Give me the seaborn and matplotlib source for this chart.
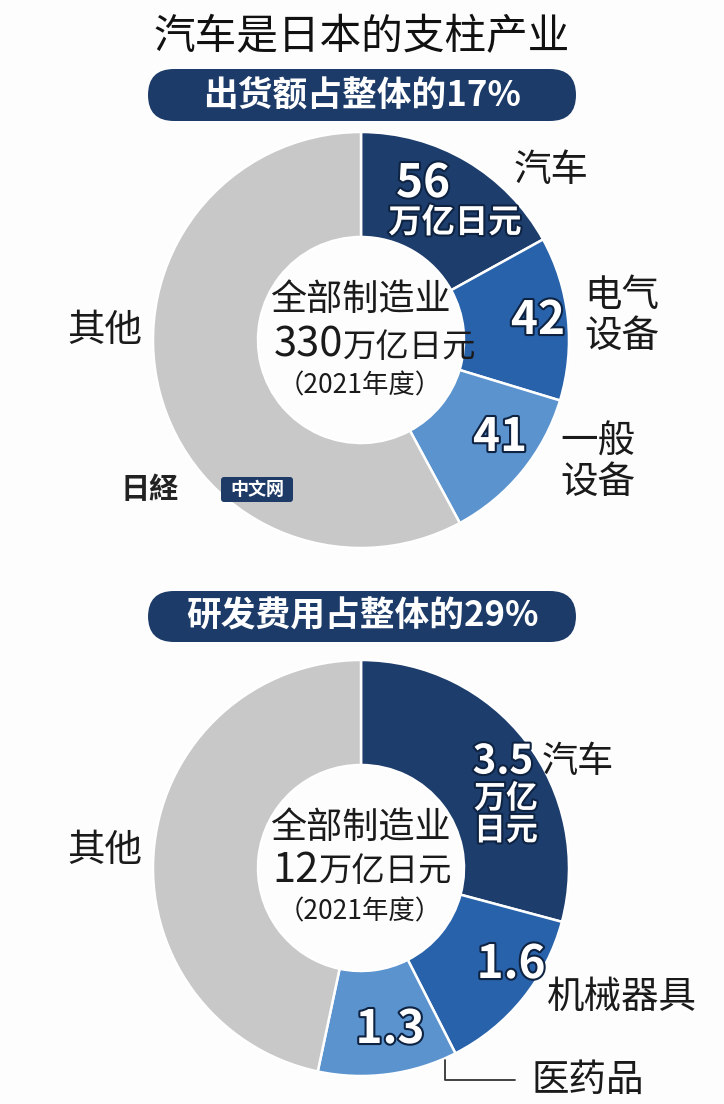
import seaborn as sns
import matplotlib.pyplot as plt
import matplotlib.patheffects as pe
from matplotlib.patches import FancyBboxPatch

# 数据
title = "汽车是日本的支柱产业"
ship_banner = "出货额占整体的17%"
ship_labels = ["汽车", "电气\n设备", "一般\n设备", "其他"]
ship_values = [56, 42, 41, 191]
ship_total = "330"

rd_banner = "研发费用占整体的29%"
rd_labels = ["汽车", "机械器具", "医药品", "其他"]
rd_values = [3.5, 1.6, 1.3, 5.6]
rd_total = "12"

year_note = "（2021年度）"

sns.set_theme(style="white")
plt.rcParams['font.family'] = ['Noto Sans CJK SC', 'DejaVu Sans']

colors = ["#1d3d6c", "#2862aa", "#5b93cf", "#c8c8c8"]
navy = "#1c3b68"
H = 1104

fig = plt.figure(figsize=(7.24, 11.04), dpi=100)
fig.patch.set_facecolor("#fdfdfd")
ax = fig.add_axes([0, 0, 1, 1])


def Y(y):
    return H - y


def donut(values, cy):
    ax.pie(values, colors=colors, startangle=90, counterclock=False,
           radius=208, center=(361, Y(cy)),
           wedgeprops=dict(width=105, edgecolor="white", linewidth=1.8))


def banner(text, y0, y1):
    box = FancyBboxPatch((122 + 26, Y(y1)), 480 - 52, y1 - y0,
                         boxstyle="round,pad=0,rounding_size=26",
                         mutation_aspect=1, facecolor=navy, edgecolor="none")
    ax.add_patch(box)
    ax.text(362, Y((y0 + y1) / 2), text, ha="center", va="center",
            color="white", fontsize=25, fontweight="bold")


def val(x, y, s, size=33):
    ax.text(x, Y(y), s, ha="center", va="center", color="white",
            fontsize=size, fontweight="bold", linespacing=1.0,
            path_effects=[pe.withStroke(linewidth=3, foreground="#0e2342")])


def lab(x, y, s, ha="center", size=27):
    ax.text(x, Y(y), s, ha=ha, va="center", color="#1a1a1a",
            fontsize=size, linespacing=1.05)


# 标题
ax.text(362, Y(38), title, ha="center", va="center", fontsize=30, color="#111111")

# 出货额
banner(ship_banner, 69, 121)
donut(ship_values, 340)
val(423, 184, str(ship_values[0]))
val(455, 223, "万亿日元", size=24)
val(538, 321, str(ship_values[1]))
val(500, 438, str(ship_values[2]))
lab(551, 170, ship_labels[0])
lab(622, 316, ship_labels[1])
lab(598, 462, ship_labels[2])
lab(105, 330, ship_labels[3])
ax.text(360, Y(300), "全部制造业", ha="center", va="center", fontsize=26, color="#1a1a1a")
ax.text(308, Y(345), ship_total, ha="center", va="center", fontsize=30, color="#1a1a1a")
ax.text(410, Y(347), "万亿日元", ha="center", va="center", fontsize=24, color="#1a1a1a")
ax.text(360, Y(386), year_note, ha="center", va="center", fontsize=19, color="#1a1a1a")

# 水印
ax.text(150, Y(489), "日経", ha="center", va="center", fontsize=21,
        fontweight="bold", color="#222222", style="italic")
wm = FancyBboxPatch((221, Y(502)), 72, 25, boxstyle="round,pad=0,rounding_size=3",
                    facecolor="#1e3a66", edgecolor="none")
ax.add_patch(wm)
ax.text(257, Y(489.5), "中文网", ha="center", va="center", fontsize=13,
        color="white", fontweight="bold")

# 研发费用
banner(rd_banner, 591, 642)
donut(rd_values, 868)
val(503, 762, str(rd_values[0]), size=29)
val(506, 815, "万亿\n日元", size=23)
val(511, 965, str(rd_values[1]))
val(390, 1030, str(rd_values[2]))
lab(578, 762, rd_labels[0], size=26)
lab(622, 997, rd_labels[1])
lab(588, 1080, rd_labels[2])
lab(105, 850, rd_labels[3])
ax.plot([445, 445, 515], [Y(1060), Y(1080), Y(1080)], color="#333333", lw=1.3)
ax.text(360, Y(828), "全部制造业", ha="center", va="center", fontsize=26, color="#1a1a1a")
ax.text(296, Y(870), rd_total, ha="center", va="center", fontsize=30, color="#1a1a1a")
ax.text(386, Y(872), "万亿日元", ha="center", va="center", fontsize=24, color="#1a1a1a")
ax.text(360, Y(912), year_note, ha="center", va="center", fontsize=19, color="#1a1a1a")

ax.set_xlim(0, 724)
ax.set_ylim(0, H)
ax.set_aspect("auto")
ax.axis("off")

fig.savefig("out.png", dpi=100, facecolor=fig.get_facecolor())
